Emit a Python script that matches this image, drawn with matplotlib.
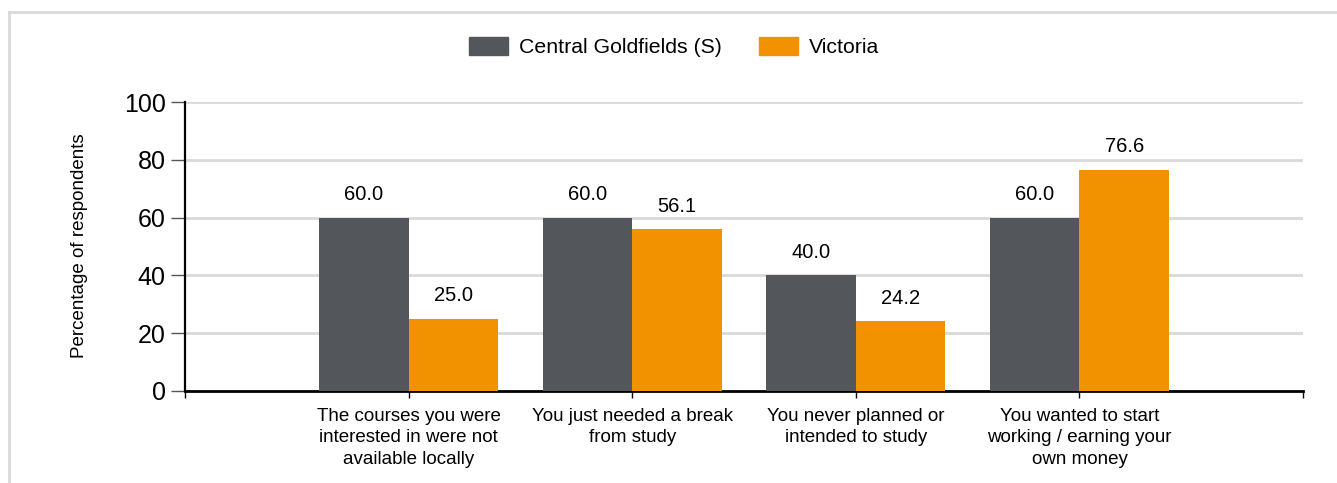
import matplotlib

matplotlib.use("Agg")
import matplotlib.pyplot as plt
import numpy as np
from matplotlib.patches import Patch

plt.rcParams["font.family"] = ["Liberation Sans", "DejaVu Sans"]

categories = [
    "The courses you were\ninterested in were not\navailable locally",
    "You just needed a break\nfrom study",
    "You never planned or\nintended to study",
    "You wanted to start\nworking / earning your\nown money",
]
central_goldfields = [60.0, 60.0, 40.0, 60.0]
victoria = [25.0, 56.1, 24.2, 76.6]
series_names = ["Central Goldfields (S)", "Victoria"]
y_ticks = [0, 20, 40, 60, 80, 100]

DARK = "#53565a"
ORANGE = "#f39200"

fig = plt.figure(figsize=(13.37, 4.83), dpi=100)
ax = fig.add_axes([0.1384, 0.1905, 0.8362, 0.5983])

x = np.arange(1, len(categories) + 1)
width = 0.4
bars_a = ax.bar(x - width / 2, central_goldfields, width, color=DARK, zorder=3)
bars_b = ax.bar(x + width / 2, victoria, width, color=ORANGE, zorder=3)

for bars in (bars_a, bars_b):
    for bar in bars:
        h = bar.get_height()
        ax.text(bar.get_x() + bar.get_width() / 2, h + 4.6, f"{h:.1f}",
                ha="center", va="bottom", fontsize=14.5)

ax.set_xlim(0, len(categories) + 1)
ax.set_ylim(0, 100)
ax.set_yticks(y_ticks)
ax.set_yticklabels([str(v) for v in y_ticks], fontsize=18)
ax.set_xticks(np.arange(0, len(categories) + 2))
ax.set_xticklabels([""] + categories + [""], fontsize=13.5, linespacing=1.36)
ax.tick_params(axis="x", length=5, width=1, pad=7)
ax.tick_params(axis="y", length=10, width=1, color="#555555", pad=4)

ax.grid(axis="y", color="#d9d9d9", linewidth=2, zorder=0)
for side in ("top", "right"):
    ax.spines[side].set_visible(False)
ax.spines["left"].set_linewidth(1.6)
ax.spines["bottom"].set_linewidth(2)

fig.text(80 / 1337, 1 - 246 / 483, "Percentage of respondents", rotation=90,
         ha="center", va="center", fontsize=13.5)

handles = [Patch(color=DARK), Patch(color=ORANGE)]
fig.legend(handles, series_names, loc="center", bbox_to_anchor=(0.504, 1 - 47 / 483),
           ncol=2, frameon=False, fontsize=15.3, handlelength=1.85, handleheight=0.9,
           columnspacing=1.75, handletextpad=0.5)

# light frame on the left and top
fig.add_artist(plt.Line2D([9 / 1337, 9 / 1337], [0, 1 - 12 / 483], color="#d9d9d9",
                          linewidth=2, transform=fig.transFigure))
fig.add_artist(plt.Line2D([9 / 1337, 1], [1 - 12 / 483, 1 - 12 / 483], color="#d9d9d9",
                          linewidth=2, transform=fig.transFigure))

fig.savefig("out.png", dpi=100)
